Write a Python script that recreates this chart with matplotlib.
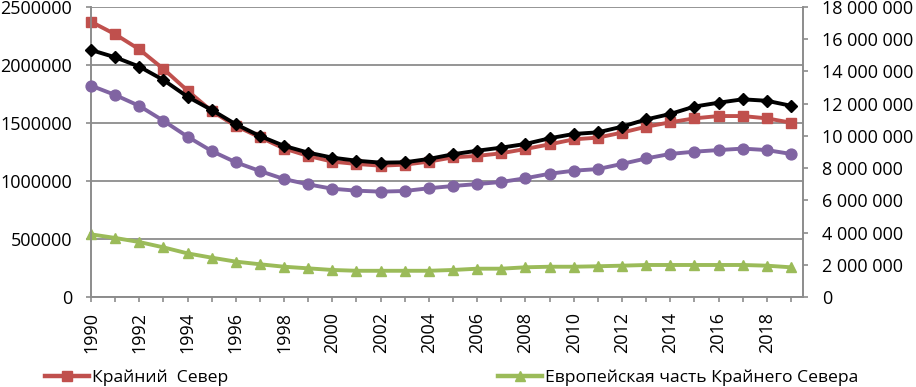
import numpy as np
import matplotlib
matplotlib.use("Agg")
from matplotlib import pyplot as plt
from matplotlib.lines import Line2D

plt.rcParams['font.family'] = ['Open Sans', 'DejaVu Sans']

years = list(range(1990, 2020))

# left axis
far_north = [2373000, 2265000, 2135000, 1966000, 1779000, 1603000, 1474000, 1377000,
             1280000, 1216000, 1167000, 1147000, 1132000, 1141000, 1167000, 1204000,
             1216000, 1239000, 1276000, 1316000, 1359000, 1374000, 1417000, 1468000,
             1506000, 1540000, 1560000, 1560000, 1540000, 1503000]
european_part = [540000, 509000, 474000, 428000, 376000, 339000, 305000, 282000,
                 261000, 247000, 233000, 226000, 226000, 226000, 226000, 233000,
                 244000, 244000, 256000, 261000, 261000, 265000, 270000, 276000,
                 276000, 276000, 276000, 276000, 270000, 256000]

# right axis
series_purple = [13120000, 12540000, 11860000, 10940000, 9950000, 9060000, 8360000, 7820000,
                 7320000, 6990000, 6720000, 6600000, 6540000, 6580000, 6750000, 6890000,
                 7010000, 7140000, 7370000, 7650000, 7840000, 7940000, 8260000, 8600000,
                 8880000, 9020000, 9120000, 9210000, 9120000, 8880000]
series_black = [15330000, 14880000, 14300000, 13470000, 12430000, 11610000, 10720000, 9990000,
                9380000, 8960000, 8650000, 8460000, 8340000, 8360000, 8570000, 8860000,
                9080000, 9270000, 9500000, 9850000, 10120000, 10220000, 10570000, 11020000,
                11360000, 11820000, 12060000, 12270000, 12180000, 11870000]

left_ticks = [0, 500000, 1000000, 1500000, 2000000, 2500000]
right_ticks = list(range(0, 18000001, 2000000))

red = '#C0504D'
green = '#9BBB59'
purple = '#8064A2'
grey = '#8C8C8C'

fig = plt.figure(figsize=(9.16, 3.87), dpi=100)
ax = fig.add_axes([91 / 916, 90 / 387, 712 / 916, 290 / 387])
ax2 = ax.twinx()

lw = 2.8
ms = 7.8
ax.plot(years, far_north, color=red, lw=lw, marker='s', ms=ms, clip_on=False, zorder=3)
ax.plot(years, european_part, color=green, lw=lw, marker='^', ms=ms, clip_on=False, zorder=3)
ax2.plot(years, series_purple, color=purple, lw=lw, marker='o', ms=ms, clip_on=False, zorder=3)
ax2.plot(years, series_black, color='black', lw=lw, marker='D', ms=6.2, clip_on=False, zorder=4)

ax.set_xlim(1990, 2019.5)
ax.set_ylim(0, 2500000)
ax2.set_ylim(0, 18000000)

ax.set_yticks(left_ticks)
ax.set_yticklabels([str(v) for v in left_ticks])
ax2.set_yticks(right_ticks)
ax2.set_yticklabels([f"{v:,}".replace(',', ' ') for v in right_ticks])

ax.set_xticks(years)
ax.set_xticklabels([str(y) if y % 2 == 0 else '' for y in years], rotation=90)

ax.grid(axis='y', color=grey, lw=1.3)
ax.set_axisbelow(True)

for a in (ax, ax2):
    for s in a.spines.values():
        s.set_color(grey)
        s.set_linewidth(1.2)
    a.spines['top'].set_visible(False)
    a.tick_params(colors=grey, labelcolor='black', labelsize=13, length=3.6, width=1.2)
ax.tick_params(axis='y', pad=10)
ax2.tick_params(axis='y', pad=10)
ax.tick_params(axis='x', pad=7)

h1 = Line2D([], [], color=red, lw=lw + 0.4, marker='s', ms=ms)
h2 = Line2D([], [], color=green, lw=lw + 0.4, marker='^', ms=ms)
fig.legend([h1], ['Крайний  Север'], loc='center left', bbox_to_anchor=(45 / 916, 9 / 387),
           frameon=False, fontsize=12.6, handlelength=2.5, handletextpad=0.2,
           borderpad=0, borderaxespad=0)
fig.legend([h2], ['Европейская часть Крайнего Севера'], loc='center left',
           bbox_to_anchor=(498 / 916, 9 / 387), frameon=False, fontsize=12.6,
           handlelength=2.5, handletextpad=0.2, borderpad=0, borderaxespad=0)

fig.savefig('out.png', dpi=100)
